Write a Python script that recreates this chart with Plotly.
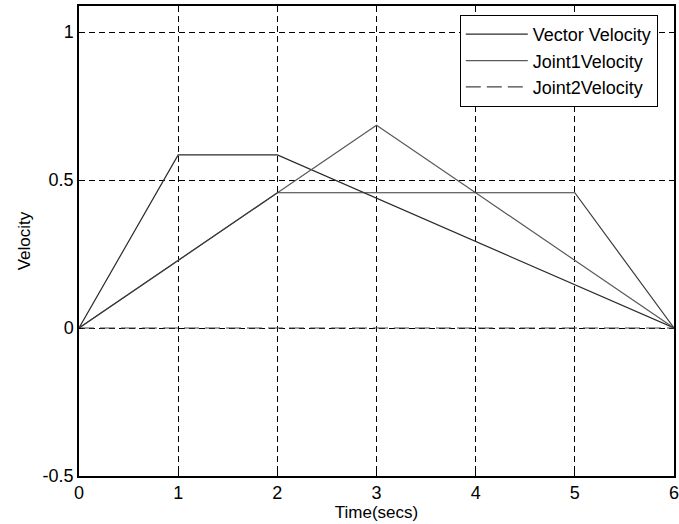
import plotly.graph_objects as go

time_s = [0, 1, 2, 3, 4, 5, 6]
vector_velocity = [0, 0.585, 0.585, 0.439, 0.293, 0.146, 0]
joint1_velocity = [0, 0.228, 0.457, 0.685, 0.457, 0.228, 0]
joint2_velocity = [0, 0, 0, 0, 0, 0, 0]
extra_velocity = [0, 0.228, 0.457, 0.457, 0.457, 0.457, 0]

FONT = "Liberation Sans, Arial, sans-serif"

fig = go.Figure()
fig.add_trace(go.Scatter(x=time_s, y=vector_velocity, mode="lines", name="Vector Velocity",
                         line=dict(color="#2a2a2a", width=1.2)))
fig.add_trace(go.Scatter(x=time_s, y=joint1_velocity, mode="lines", name="Joint1Velocity",
                         line=dict(color="#5a5a5a", width=1.2)))
fig.add_trace(go.Scatter(x=time_s, y=joint2_velocity, mode="lines", name="Joint2Velocity",
                         line=dict(color="#444444", width=1.2, dash="15px,6px")))
fig.add_trace(go.Scatter(x=time_s, y=extra_velocity, mode="lines", name="",
                         line=dict(color="#3a3a3a", width=1.2), showlegend=False))

grid_style = dict(showgrid=True, gridcolor="#000000", gridwidth=1, griddash="6px,4px",
                  showline=True, linecolor="#000000", linewidth=1.5, mirror=True,
                  zeroline=False, ticks="inside", ticklen=4, tickcolor="#000000",
                  automargin=False, ticklabeloverflow="allow",
                  tickfont=dict(family=FONT, size=18, color="#000000"))

fig.update_xaxes(range=[0, 6], tickvals=[0, 1, 2, 3, 4, 5, 6], ticktext=["0", "1", "2", "3", "4", "5", "6"],
                 title=dict(text="Time(secs)", font=dict(family=FONT, size=17, color="#000000"), standoff=2),
                 **grid_style)
fig.update_yaxes(range=[-0.5, 1.088], tickvals=[-0.5, 0, 0.5, 1], ticktext=["-0.5", "0", "0.5", "1"],
                 title=dict(text="Velocity", font=dict(family=FONT, size=17, color="#000000"), standoff=8),
                 **grid_style)

fig.update_layout(
    width=679, height=524,
    margin=dict(l=79, r=5, t=6, b=48),
    plot_bgcolor="#ffffff", paper_bgcolor="#ffffff",
    legend=dict(x=0.64, y=0.981, xanchor="left", yanchor="top",
                bgcolor="#ffffff", bordercolor="#000000", borderwidth=1,
                itemwidth=62,
                font=dict(family=FONT, size=18, color="#000000")),
    showlegend=True,
)

fig.write_html("out.html", config={"displayModeBar": False},
               post_script="document.body.style.margin='0px';")
